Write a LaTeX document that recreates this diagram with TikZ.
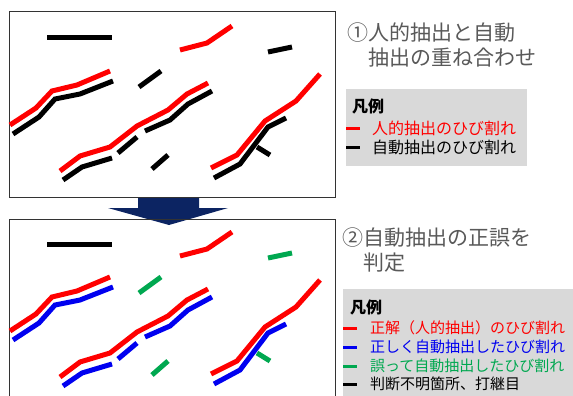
\documentclass[tikz,border=0pt]{standalone}
\usepackage{fontspec}
\setmainfont{Noto Sans CJK JP}
\definecolor{freccia}{RGB}{12,36,98}
\definecolor{grigio}{RGB}{89,89,89}
\definecolor{fondo}{RGB}{217,217,217}
\definecolor{rosso}{RGB}{255,0,0}
\definecolor{blu}{RGB}{0,0,240}
\definecolor{verde}{RGB}{0,168,80}
\begin{document}
\begin{tikzpicture}[x=1pt,y=-1pt,
		crepa/.style={line width=5pt},
		titolo/.style={anchor=west,inner sep=0pt,text=grigio,align=left,font=\fontsize{21}{25}\selectfont},
		voce/.style={anchor=west,inner sep=0pt,font=\fontsize{15}{18}\selectfont},
		segno/.style={line width=3pt}]
		\useasboundingbox (0,0) rectangle (573,396);

		% Freccia
		\fill[freccia] (138,197) -- (199,197) -- (199,208) -- (228,208) -- (169,225)
			-- (108,208) -- (138,208) -- cycle;

		% Riquadri
		\draw[black!80] (9,11) rectangle (335,197);
		\draw[black!80] (9,219) rectangle (335,400);

		% Crepe (sopra: rilievo manuale e automatico, sotto: giudizio)
		\foreach \dy/\cok/\cno in {0/black/black, 206/blu/verde}{
		\begin{scope}[shift={(0,\dy)}]
			\draw[crepa,black] (47,38) -- (112,38);
			\draw[crepa,rosso] (180,50) -- (207,43) -- (232,26);
			\draw[crepa,rosso] (10,125) -- (36,108) -- (52,91) -- (77,85) -- (110,71);
			\draw[crepa,rosso] (60,171) -- (80,156) -- (110,147) -- (137,126) -- (168,110) -- (187,94) -- (208,83);
			\draw[crepa,rosso] (211,168) -- (237,155) -- (265,121) -- (296,101) -- (320,74);
			\draw[crepa,\cok] (13,134) -- (39,117) -- (55,99) -- (80,94) -- (113,81);
			\draw[crepa,\cok] (63,180) -- (82,167) -- (112,158);
			\draw[crepa,\cok] (118,153) -- (137,137);
			\draw[crepa,\cok] (145,131) -- (170,120) -- (188,104) -- (212,91);
			\draw[crepa,\cok] (214,178) -- (240,164) -- (268,127) -- (286,118);
			\draw[crepa,\cno] (268,52) -- (292,47);
			\draw[crepa,\cno] (139,87) -- (161,71);
			\draw[crepa,\cno] (152,169) -- (168,155);
			\draw[crepa,\cno] (257,147) -- (270,155);
		\end{scope}
		}

		% Titoli
		\node[titolo] (tit1) at (347,45) {①人的抽出と自動\\　抽出の重ね合わせ};
		\node[titolo] (tit2) at (342,250) {②自動抽出の正誤を\\　判定};

		% Legenda 1
		\fill[fondo] (346,89) rectangle (527,166);
		\node[voce,font=\fontsize{16}{18}\selectfont\bfseries] (leg1) at (352,106) {凡例};
		\draw[segno,rosso] (346,128) -- (360,128);
		\node[voce,text=rosso,font=\fontsize{16}{18}\selectfont] (leg1a) at (372,128) {人的抽出のひび割れ};
		\draw[segno,black] (346,147) -- (360,147);
		\node[voce,font=\fontsize{16}{18}\selectfont] (leg1b) at (372,147) {自動抽出のひび割れ};

		% Legenda 2
		\fill[fondo] (343,289) rectangle (575,400);
		\node[voce,font=\fontsize{16}{18}\selectfont\bfseries] (leg2) at (350,307) {凡例};
		\draw[segno,rosso] (343,328) -- (357,328);
		\node[voce,text=rosso] (leg2a) at (370,328) {正解（人的抽出）のひび割れ};
		\draw[segno,blu] (343,347) -- (357,347);
		\node[voce,text=blu] (leg2b) at (370,347) {正しく自動抽出したひび割れ};
		\draw[segno,verde] (343,366) -- (357,366);
		\node[voce,text=verde] (leg2c) at (370,366) {誤って自動抽出したひび割れ};
		\draw[segno,black] (343,384) -- (357,384);
		\node[voce] (leg2d) at (370,384) {判断不明箇所、打継目};
	\end{tikzpicture}
\end{document}
